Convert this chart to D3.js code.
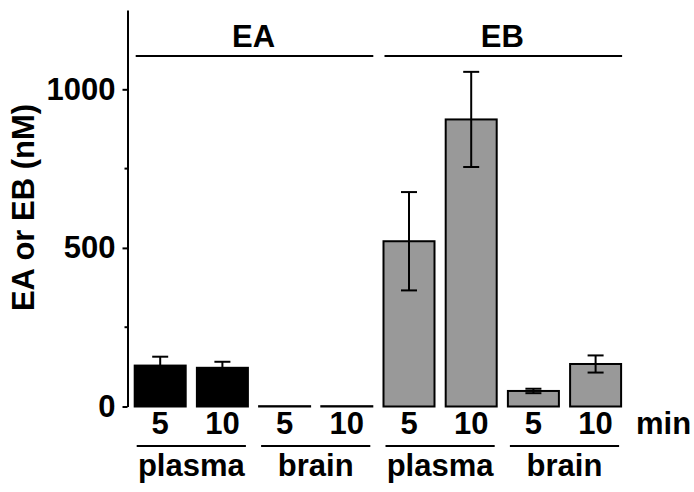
<!DOCTYPE html>
<html>
<head>
<meta charset="utf-8">
<script src="https://cdn.jsdelivr.net/npm/d3@7"></script>
<style>
  body { margin: 0; background: #fff; }
  text { font-family: "Liberation Sans", Arial, sans-serif; font-weight: bold; }
</style>
</head>
<body>
<div id="chart"></div>
<script>
// data
var compounds = ["EA", "EB"];
var tissues = ["plasma", "brain"];
var times = ["5", "10"];
// order: EA plasma 5,10 / EA brain 5,10 / EB plasma 5,10 / EB brain 5,10
var means = [129, 122, 1, 1, 521, 905, 49, 134];
var sds = [28, 19, 0, 0, 155, 150, 7, 27];
var yTicks = [0, 500, 1000];
var yMinorTicks = [250, 750];

var svgWidth = 694;
var svgHeight = 492;
var fontSize = "31px";

var svg = d3.select("#chart")
    .append("svg")
    .attr("width", svgWidth)
    .attr("height", svgHeight);

// build rows
var rows = [];
var i = 0;
compounds.forEach(function(c) {
    tissues.forEach(function(t) {
        times.forEach(function(m) {
            rows.push({key: c + "-" + t + "-" + m, compound: c, tissue: t, time: m,
                mean: means[i], sd: sds[i]});
            i++;
        });
    });
});

var x = d3.scaleBand()
    .domain(rows.map(d => d.key))
    .range([129.1, 626.7])
    .paddingInner(0.18)
    .paddingOuter(0.09);

var y = d3.scaleLinear()
    .domain([0, 1250])
    .range([406.5, 10]);

var axisX = 127.5;

// y axis
var yAxis = d3.axisLeft(y)
    .tickValues(yTicks)
    .tickSizeInner(5)
    .tickSizeOuter(0)
    .tickPadding(7)
    .tickFormat(d3.format("d"));

var gy = svg.append("g")
    .attr("transform", `translate(${axisX},0)`)
    .call(yAxis);
gy.select(".domain").attr("stroke", "#000").attr("stroke-width", 2);
gy.selectAll(".tick line").attr("stroke", "#000").attr("stroke-width", 2);
gy.selectAll(".tick text")
    .attr("fill", "#000")
    .style("font-size", fontSize)
    .style("font-family", "'Liberation Sans', Arial, sans-serif")
    .style("font-weight", "bold");

gy.selectAll(".minor")
    .data(yMinorTicks)
    .enter()
    .append("line")
    .attr("class", "minor")
    .attr("x1", -3)
    .attr("x2", 0)
    .attr("y1", d => y(d))
    .attr("y2", d => y(d))
    .attr("stroke", "#000")
    .attr("stroke-width", 2);

svg.append("text")
    .attr("transform", "translate(33.5,207.5) rotate(-90)")
    .attr("text-anchor", "middle")
    .style("font-size", fontSize)
    .text("EA or EB (nM)");

// bars
svg.selectAll("rect.bar")
    .data(rows)
    .enter()
    .append("rect")
    .attr("class", "bar")
    .attr("x", d => x(d.key))
    .attr("width", x.bandwidth())
    .attr("y", d => y(d.mean))
    .attr("height", d => y(0) - y(d.mean))
    .attr("fill", d => d.compound == "EA" ? "#000" : "#999")
    .attr("stroke", "#000")
    .attr("stroke-width", 2);

// error bars
var errs = rows.filter(d => d.sd > 0);
var capW = 8;
svg.selectAll("line.err")
    .data(errs)
    .enter()
    .append("line")
    .attr("class", "err")
    .attr("x1", d => x(d.key) + x.bandwidth() / 2)
    .attr("x2", d => x(d.key) + x.bandwidth() / 2)
    .attr("y1", d => y(d.mean - d.sd))
    .attr("y2", d => y(d.mean + d.sd))
    .attr("stroke", "#000")
    .attr("stroke-width", 2);

["top", "bottom"].forEach(function(side) {
    svg.selectAll("line.cap-" + side)
        .data(errs)
        .enter()
        .append("line")
        .attr("class", "cap-" + side)
        .attr("x1", d => x(d.key) + x.bandwidth() / 2 - capW)
        .attr("x2", d => x(d.key) + x.bandwidth() / 2 + capW)
        .attr("y1", d => y(side == "top" ? d.mean + d.sd : d.mean - d.sd))
        .attr("y2", d => y(side == "top" ? d.mean + d.sd : d.mean - d.sd))
        .attr("stroke", "#000")
        .attr("stroke-width", 2);
});

// time labels
svg.selectAll("text.time")
    .data(rows)
    .enter()
    .append("text")
    .attr("class", "time")
    .attr("x", d => x(d.key) + x.bandwidth() / 2)
    .attr("y", 434)
    .attr("text-anchor", "middle")
    .style("font-size", fontSize)
    .text(d => d.time);

svg.append("text")
    .attr("x", 636)
    .attr("y", 434)
    .style("font-size", fontSize)
    .text("min");

// tissue groups
var tissueGroups = [];
compounds.forEach(function(c) {
    tissues.forEach(function(t) {
        var keys = rows.filter(d => d.compound == c && d.tissue == t).map(d => d.key);
        tissueGroups.push({name: t, first: keys[0], last: keys[keys.length - 1]});
    });
});

svg.selectAll("line.tissue")
    .data(tissueGroups)
    .enter()
    .append("line")
    .attr("class", "tissue")
    .attr("x1", d => x(d.first) + 2)
    .attr("x2", d => x(d.last) + x.bandwidth() - 2)
    .attr("y1", 446)
    .attr("y2", 446)
    .attr("stroke", "#000")
    .attr("stroke-width", 2);

svg.selectAll("text.tissue")
    .data(tissueGroups)
    .enter()
    .append("text")
    .attr("class", "tissue")
    .attr("x", d => (x(d.first) + x(d.last) + x.bandwidth()) / 2)
    .attr("y", 476)
    .attr("text-anchor", "middle")
    .style("font-size", fontSize)
    .text(d => d.name);

// compound groups at the top
var compoundGroups = compounds.map(function(c) {
    var keys = rows.filter(d => d.compound == c).map(d => d.key);
    return {name: c, first: keys[0], last: keys[keys.length - 1]};
});

svg.selectAll("line.compound")
    .data(compoundGroups)
    .enter()
    .append("line")
    .attr("class", "compound")
    .attr("x1", d => x(d.first) + 1)
    .attr("x2", d => x(d.last) + x.bandwidth() + 1)
    .attr("y1", 56)
    .attr("y2", 56)
    .attr("stroke", "#000")
    .attr("stroke-width", 2);

svg.selectAll("text.compound")
    .data(compoundGroups)
    .enter()
    .append("text")
    .attr("class", "compound")
    .attr("x", d => (x(d.first) + x(d.last) + x.bandwidth()) / 2)
    .attr("y", 46.5)
    .attr("text-anchor", "middle")
    .style("font-size", fontSize)
    .text(d => d.name);
</script>
</body>
</html>
